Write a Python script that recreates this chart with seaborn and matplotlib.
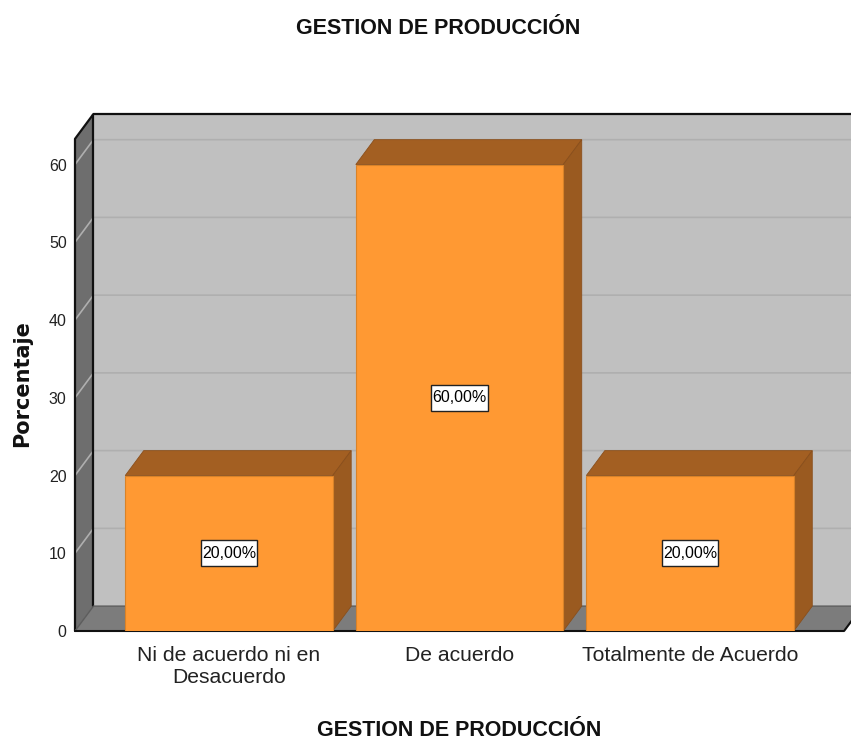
import matplotlib
matplotlib.use('Agg')
import matplotlib.pyplot as plt
import pandas as pd
import seaborn as sns
from matplotlib.patches import Polygon, Rectangle

categories = ['Ni de acuerdo ni en\nDesacuerdo', 'De acuerdo', 'Totalmente de Acuerdo']
percent = [20, 60, 20]
bar_labels = ['20,00%', '60,00%', '20,00%']
y_ticks = [0, 10, 20, 30, 40, 50, 60]
title = 'GESTION DE PRODUCCIÓN'
y_title = 'Porcentaje'

df = pd.DataFrame({'categoria': categories, 'porcentaje': percent})

sns.set_theme(style='white')
plt.rcParams['font.family'] = ['Liberation Sans', 'DejaVu Sans']

# fake 3d depth, in data units
DX = 0.08
DY = 3.2
X0, X1 = -0.668, 2.668
Y_TOP = 63.3
# size of the white label boxes
BOX_W = 0.245
BOX_H = 3.4

fig = plt.figure(figsize=(8.51, 7.4), dpi=100)
ax = fig.add_axes([75 / 851, 109 / 740, 776 / 851, 517 / 740])

sns.barplot(data=df, x='categoria', y='porcentaje', color='#ff9933', saturation=1,
            width=0.9, edgecolor='#d98228', linewidth=0.8, zorder=5, ax=ax)

ax.set_xlim(X0, 2.698)
ax.set_ylim(0, Y_TOP + DY)

# walls and floor
ax.add_patch(Polygon([(X0 + DX, DY), (X1 + 2 * DX, DY), (X1 + 2 * DX, Y_TOP + DY), (X0 + DX, Y_TOP + DY)],
                     facecolor='#c0c0c0', edgecolor='none', zorder=1))
ax.add_patch(Polygon([(X0, 0), (X0 + DX, DY), (X0 + DX, Y_TOP + DY), (X0, Y_TOP)],
                     facecolor='#6e6e6e', edgecolor='none', zorder=1))
ax.add_patch(Polygon([(X0, 0), (X0 + DX, DY), (X1 + DX, DY), (X1, 0)],
                     facecolor='#7c7c7c', edgecolor='none', zorder=1))

# gridlines run along the back wall and down the side wall
for t in y_ticks[1:]:
    ax.plot([X0, X0 + DX, 2.75], [t, t + DY, t + DY], color='#afafaf', lw=1.2, zorder=2)

# frame
ax.plot([X0, X0, X0 + DX, 2.75], [0, Y_TOP, Y_TOP + DY, Y_TOP + DY], color='#111111', lw=1.6, zorder=3,
        clip_on=False)
ax.plot([X0 + DX, X0 + DX], [DY, Y_TOP + DY], color='#111111', lw=1.6, zorder=3)
ax.plot([X0, X0 + DX, X1 + DX], [0, DY, DY], color='#5c5c5c', lw=1, zorder=3)
ax.plot([X0, X1, X1 + DX], [0, 0, DY], color='#111111', lw=1.5, zorder=3, clip_on=False)

# bar tops and sides, taken from the seaborn bars
for bar, lab in zip(ax.patches[:len(percent)], bar_labels):
    x, w, h = bar.get_x(), bar.get_width(), bar.get_height()
    ax.add_patch(Polygon([(x, h), (x + DX, h + DY), (x + w + DX, h + DY), (x + w, h)],
                         facecolor='#a35f22', edgecolor='#8a4f1c', lw=0.6, zorder=4))
    ax.add_patch(Polygon([(x + w, 0), (x + w + DX, DY), (x + w + DX, h + DY), (x + w, h)],
                         facecolor='#9a5a20', edgecolor='#8a4f1c', lw=0.6, zorder=4))
    ax.add_patch(Rectangle((x + w / 2 - BOX_W / 2, h / 2 - BOX_H / 2), BOX_W, BOX_H,
                           facecolor='white', edgecolor='#222222', lw=1, zorder=6))
    ax.text(x + w / 2, h / 2, lab, ha='center', va='center', fontsize=11.5, color='black', zorder=7)

ax.set_yticks(y_ticks)
ax.tick_params(axis='both', length=0)
ax.tick_params(axis='y', labelsize=11.5, pad=6, colors='#222222')
ax.tick_params(axis='x', labelsize=15.2, pad=11, colors='#222222')
for lab in ax.get_xticklabels():
    lab.set_linespacing(1.15)

ax.set_xlabel('')
ax.set_ylabel('')
for s in ax.spines.values():
    s.set_visible(False)

fig.text(438 / 851, 1 - 28 / 740, title, ha='center', va='center', fontsize=15.5, fontweight='bold', color='#111111')
fig.text(459 / 851, 1 - 731 / 740, title, ha='center', va='center', fontsize=15.5, fontweight='bold', color='#111111')
fig.text(22 / 851, 1 - 384 / 740, y_title, rotation=90, ha='center', va='center', fontsize=15,
         fontweight='bold', family='DejaVu Sans', color='#111111')

fig.savefig('out.png', dpi=100)
